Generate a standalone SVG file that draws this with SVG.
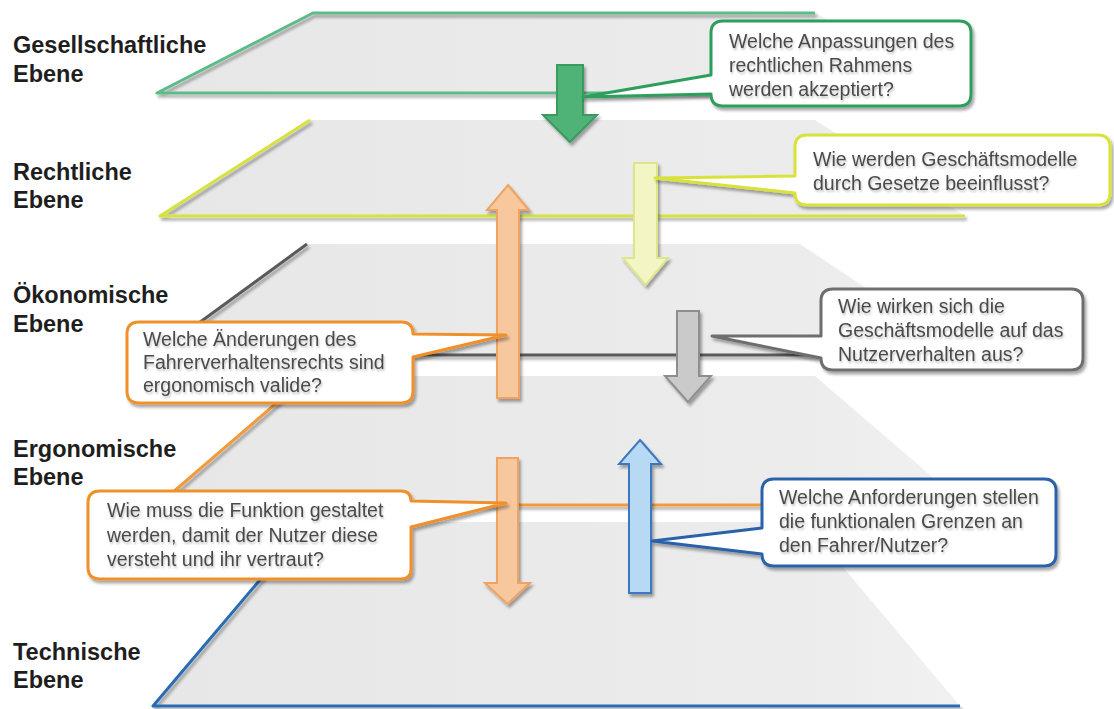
<svg xmlns="http://www.w3.org/2000/svg" width="1114" height="709" viewBox="0 0 1114 709">
<defs>
<filter id="sh" x="-10%" y="-10%" width="130%" height="140%">
<feGaussianBlur in="SourceAlpha" stdDeviation="1.8"/>
<feOffset dx="2" dy="3" result="o"/>
<feComponentTransfer><feFuncA type="linear" slope="0.35"/></feComponentTransfer>
<feMerge><feMergeNode/><feMergeNode in="SourceGraphic"/></feMerge>
</filter>
<filter id="tsh" x="-5%" y="-20%" width="110%" height="150%">
<feGaussianBlur in="SourceAlpha" stdDeviation="1"/>
<feOffset dx="1" dy="1.5"/>
<feComponentTransfer><feFuncA type="linear" slope="0.25"/></feComponentTransfer>
<feMerge><feMergeNode/><feMergeNode in="SourceGraphic"/></feMerge>
</filter>
<linearGradient id="pg" x1="0" y1="0" x2="1" y2="0">
<stop offset="0" stop-color="#e7e7e7"/>
<stop offset="0.8" stop-color="#ececec"/>
<stop offset="1" stop-color="#f1f1f1"/>
</linearGradient>
</defs>
<style>
.lbl{font-family:"Liberation Sans",Arial,sans-serif;font-weight:bold;font-size:23.5px;fill:#1e1e1e}
.ct{font-family:"Liberation Sans",Arial,sans-serif;font-size:19.5px;fill:#4a4a4a}
.plane{fill:url(#pg);stroke:none}
.edge{fill:none;stroke-width:3;stroke-linejoin:round}
.bub{fill:#ffffff;stroke-width:3;stroke-linejoin:round}
.arr{stroke-width:2;stroke-linejoin:miter}
</style>
<rect width="1114" height="709" fill="#ffffff"/>

<g id="labels">
<text class="lbl" x="13" y="53">Gesellschaftliche</text>
<text class="lbl" x="13" y="82">Ebene</text>
<text class="lbl" x="13" y="180">Rechtliche</text>
<text class="lbl" x="13" y="208">Ebene</text>
<text class="lbl" x="13" y="303">Ökonomische</text>
<text class="lbl" x="13" y="332">Ebene</text>
<text class="lbl" x="13" y="457">Ergonomische</text>
<text class="lbl" x="13" y="485">Ebene</text>
<text class="lbl" x="13" y="660">Technische</text>
<text class="lbl" x="13" y="688">Ebene</text>
</g>

<g id="plane-gesellschaftlich">
<polygon class="plane" points="313,13 815,13 965,93 157,93"/>
<polyline class="edge" filter="url(#sh)" stroke="#5cbb88" points="815,13 313,13 157,93 965,93"/>
</g>
<g id="plane-rechtlich">
<polygon class="plane" points="310,120 815,120 965,216 160,216"/>
<polyline class="edge" filter="url(#sh)" stroke="#d6e23c" points="310,120 160,216 965,216"/>
</g>
<g id="plane-oekonomisch">
<polygon class="plane" points="307,244 800,244 966,355 155,355"/>
<polyline class="edge" filter="url(#sh)" stroke="#5a5a5a" points="307,244 155,355 966,355"/>
</g>
<g id="plane-ergonomisch">
<polygon class="plane" points="308,376 815,376 965,505 158,505"/>
<polyline class="edge" filter="url(#sh)" stroke="#f39a3c" points="308,376 158,505 965,505"/>
</g>
<g id="plane-technisch">
<polygon class="plane" points="309,522 805,522 960,706 153,706"/>
<polyline class="edge" filter="url(#sh)" stroke="#2a6cb4" points="309,522 153,706 960,706"/>
</g>

<g id="connectors">
<polygon class="arr" filter="url(#sh)" fill="#4fb276" stroke="#3a9a60" points="557,65 583,65 583,115 597,115 570,142 543,115 557,115"/>
<polygon class="arr" filter="url(#sh)" fill="#f7c79d" stroke="#f0a260" points="508,185 529,210 519,210 519,398 497,398 497,210 487,210"/>
<polygon class="arr" filter="url(#sh)" fill="#f3f6c4" stroke="#dfe68a" points="634,163 657,163 657,258 668,258 645.5,285 623,258 634,258"/>
<polygon class="arr" filter="url(#sh)" fill="#cacaca" stroke="#8e8e8e" points="677,311 699,311 699,376 711,376 688,402 665,376 677,376"/>
<polygon class="arr" filter="url(#sh)" fill="#f7c79d" stroke="#f0a260" points="497,458 518,458 518,583 530,583 507.5,604 485,583 497,583"/>
<polygon class="arr" filter="url(#sh)" fill="#b8d9f3" stroke="#3a78c0" points="640,440 661,464 651,464 651,593 629,593 629,464 619,464"/>
</g>

<g id="callout-gesellschaft">
<path class="bub" filter="url(#sh)" stroke="#2e9e5c" d="M723,21 H959 Q971,21 971,33 V94 Q971,106 959,106 H723 Q711,106 711,94 L583,97 L711,75 V33 Q711,21 723,21 Z"/>
<text class="ct" filter="url(#tsh)" x="729" y="48">Welche Anpassungen des</text>
<text class="ct" filter="url(#tsh)" x="729" y="72">rechtlichen Rahmens</text>
<text class="ct" filter="url(#tsh)" x="729" y="96">werden akzeptiert?</text>
</g>
<g id="callout-recht">
<path class="bub" filter="url(#sh)" stroke="#d8e23a" d="M807,135 H1098 Q1110,135 1110,147 V193 Q1110,205 1098,205 H807 Q795,205 795,193 L655,178 L795,176 V147 Q795,135 807,135 Z"/>
<text class="ct" filter="url(#tsh)" x="813" y="166">Wie werden Geschäftsmodelle</text>
<text class="ct" filter="url(#tsh)" x="813" y="190">durch Gesetze beeinflusst?</text>
</g>
<g id="callout-oekonomie">
<path class="bub" filter="url(#sh)" stroke="#6e6e6e" d="M833,289 H1071 Q1083,289 1083,301 V358 Q1083,370 1071,370 H833 Q821,370 821,358 L712,336 L821,336 V301 Q821,289 833,289 Z"/>
<text class="ct" filter="url(#tsh)" x="838" y="313">Wie wirken sich die</text>
<text class="ct" filter="url(#tsh)" x="838" y="337">Geschäftsmodelle auf das</text>
<text class="ct" filter="url(#tsh)" x="838" y="361">Nutzerverhalten aus?</text>
</g>
<g id="callout-technik">
<path class="bub" filter="url(#sh)" stroke="#2a62aa" d="M774,479 H1044 Q1056,479 1056,491 V554 Q1056,566 1044,566 H774 Q762,566 762,554 L652,541 L762,528 V491 Q762,479 774,479 Z"/>
<text class="ct" filter="url(#tsh)" x="779" y="504">Welche Anforderungen stellen</text>
<text class="ct" filter="url(#tsh)" x="779" y="528">die funktionalen Grenzen an</text>
<text class="ct" filter="url(#tsh)" x="779" y="552">den Fahrer/Nutzer?</text>
</g>
<g id="callout-ergonomie-recht">
<path class="bub" filter="url(#sh)" stroke="#f0902a" d="M139,322 H401 Q413,322 413,334 L506,335 L413,357 V391 Q413,403 401,403 H139 Q127,403 127,391 V334 Q127,322 139,322 Z"/>
<text class="ct" filter="url(#tsh)" x="143" y="346">Welche Änderungen des</text>
<text class="ct" filter="url(#tsh)" x="143" y="369">Fahrerverhaltensrechts sind</text>
<text class="ct" filter="url(#tsh)" x="143" y="392">ergonomisch valide?</text>
</g>
<g id="callout-ergonomie-funktion">
<path class="bub" filter="url(#sh)" stroke="#f0902a" d="M100,491 H401 Q411,491 411,501 L506,503 L411,527 V569 Q411,579 401,579 H100 Q88,579 88,567 V503 Q88,491 100,491 Z"/>
<text class="ct" filter="url(#tsh)" x="107" y="517">Wie muss die Funktion gestaltet</text>
<text class="ct" filter="url(#tsh)" x="107" y="542">werden, damit der Nutzer diese</text>
<text class="ct" filter="url(#tsh)" x="107" y="566">versteht und ihr vertraut?</text>
</g>
</svg>
